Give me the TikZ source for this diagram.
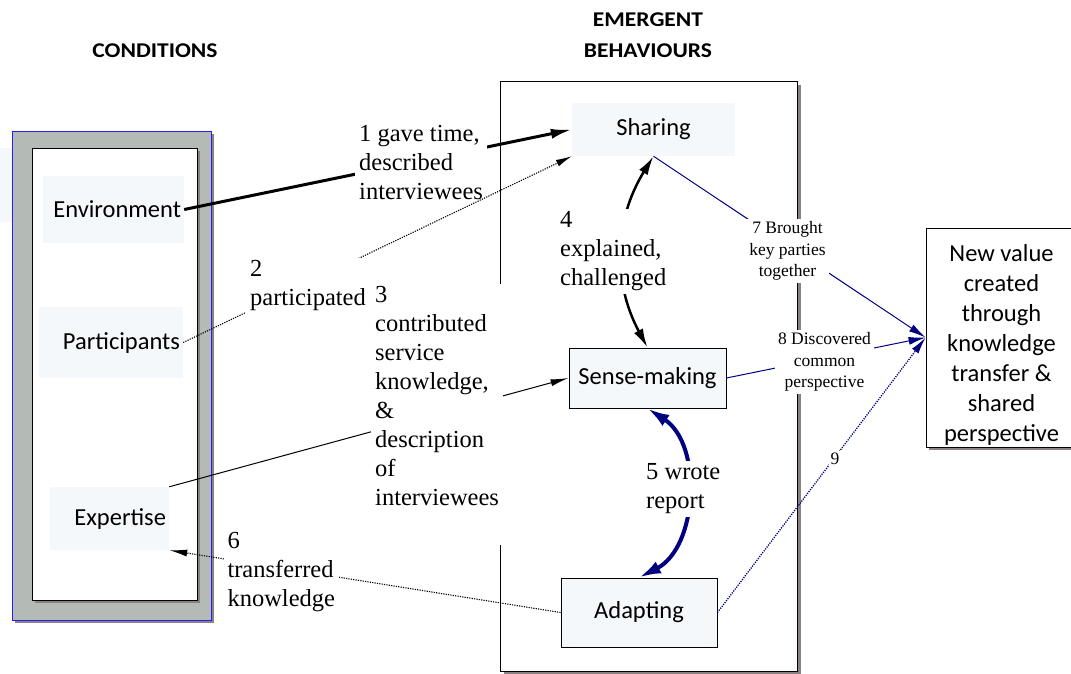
\documentclass[tikz,border=0pt]{standalone}
\usepackage{graphicx}
\usepackage{fontspec}
\setmainfont{Liberation Serif}
\newfontfamily\boxfont{Carlito}
\usetikzlibrary{arrows.meta,shadows}

\definecolor{panelgray}{HTML}{B4BBB7}
\definecolor{shadegray}{HTML}{8A8282}
\definecolor{palefill}{HTML}{F4F8FA}
\definecolor{navyline}{HTML}{000080}
\definecolor{frameblue}{HTML}{2020F0}

\begin{document}
\begin{tikzpicture}[x=1pt,y=-1pt,
  boxtext/.style={font=\boxfont\fontsize{24.5}{30}\selectfont},
  palebox/.style={boxtext, fill=palefill, inner xsep=3pt, inner ysep=0pt, align=right},
  framedbox/.style={boxtext, draw=black, line width=0.9pt, fill=palefill, inner sep=0pt},
  shade/.style={drop shadow={shadow xshift=#1,shadow yshift=-#1,fill=shadegray,opacity=1}},
  note/.style={font=\fontsize{24.5}{29}\selectfont, fill=white, align=left,
    inner xsep=4pt, inner ysep=3pt, anchor=north west},
  smallnote/.style={font=\fontsize{17.5}{21.5}\selectfont, fill=white, align=center,
    inner xsep=3pt, inner ysep=3pt},
  heading/.style={font=\boxfont\bfseries\fontsize{21}{31}\selectfont, align=center, inner sep=0pt},
  dotline/.style={dash pattern=on 1.2pt off 1.2pt, line width=1.1pt},
]
\useasboundingbox (0,0) rectangle (1071,673);

% column headings
\node[heading] (hcond) at (155,51) {\scalebox{1.12}[1]{CONDITIONS}};
\node[heading] (hemerg) at (648,35.5) {\scalebox{1.12}[1]{EMERGENT}\\\scalebox{1.12}[1]{BEHAVIOURS}};

% faint strip at the far left
\fill[palefill] (0,148) rectangle (12,222);

% conditions panel
\node[draw=frameblue, line width=0.8pt, fill=panelgray, shade=3pt,
      minimum width=199, minimum height=489, inner sep=0pt] (outer) at (111.5,375.5) {};
\node[draw=black, line width=0.9pt, fill=white, shade=3pt,
      minimum width=165, minimum height=452, inner sep=0pt] (inner) at (114.5,374) {};

\node[palebox, text width=135, minimum height=67] (env) at (113.5,209.5) {Environment};
\node[palebox, text width=138, minimum height=71] (part) at (111,342.5) {Participants};
\node[palebox, text width=113, minimum height=63] (exp) at (109.5,518.5) {Expertise};

% emergent behaviours panel
\node[draw=black, line width=0.9pt, fill=white, shade=4pt,
      minimum width=297, minimum height=590, inner sep=0pt] (emerg) at (648.5,376) {};
\node[boxtext, fill=palefill, minimum width=163, minimum height=53, inner sep=0pt] (share) at (653.5,129.5) {Sharing};
\node[framedbox, minimum width=157, minimum height=60] (sense) at (647.5,378) {Sense-making};
\node[framedbox, minimum width=156, minimum height=69] (adapt) at (639,612.5) {Adapting};

% outcome box
\node[draw=black, line width=0.9pt, fill=white, shade=3pt,
      minimum width=151, minimum height=219, inner sep=0pt,
      label={[boxtext, align=center, yshift=-7.5pt]center:New value\\created\\through\\knowledge\\transfer \&\\shared\\perspective}]
      (nv) at (1001.5,337.5) {};

% 1: environment -> sharing
\draw[line width=3pt, -{Latex[length=21pt,width=10pt]}] (env.east) -- (share.west);
\node[note] (l1) at (355,122.4) {1 gave time,\\described\\interviewees};

% 2: participants -> sharing
\draw[dotline, -{Latex[length=16pt,width=7pt]}] (part.east) -- (share.south west);
\node[note] (l2) at (246,257.4) {2\\participated};

% 3: expertise -> sense-making
\draw[line width=1pt, -{Latex[length=18pt,width=7pt]}] (exp.north east) -- (sense.west);
\node[note] (l3) at (371,283.4) {3\\contributed\\service\\knowledge,\\\&\\description\\of\\interviewees\\[7pt]~};

% 4: sharing <-> sense-making
\draw[line width=2.5pt, {Latex[length=19pt,width=10pt]}-{Latex[length=19pt,width=10pt]}]
  (share.south) to[bend right=30] (sense.north);
\node[note] (l4) at (556,208.4) {4\\explained,\\challenged};

% 5: sense-making <-> adapting
\draw[navyline, line width=4pt, {Latex[length=22pt,width=13pt]}-{Latex[length=22pt,width=13pt]}]
  (sense.south) to[bend left=60] (adapt.north);
\node[note] (l5) at (642,460.4) {5 wrote\\report};

% 6: adapting -> expertise
\draw[dotline, -{Latex[length=18pt,width=7pt]}] (adapt.west) -- (exp.south east);
\node[note] (l6) at (223.3,528.7) {6\\transferred\\knowledge};

% 7, 8, 9: behaviours -> new value
\draw[navyline, line width=1pt, -{Latex[length=17pt,width=8pt]}] (share.south) -- (nv.west);
\node[smallnote] (l7) at (787.5,251) {7 Brought\\key parties\\together};

\draw[navyline, line width=1pt, -{Latex[length=17pt,width=8pt]}] (sense.east) -- (nv.west);
\node[smallnote] (l8) at (824.5,362) {8 Discovered\\common\\perspective};

\draw[navyline, dotline, line width=1.3pt, -{Latex[length=17pt,width=8pt]}] (adapt.east) -- (nv.west);
\node[smallnote, inner sep=2pt] (l9) at (835,459) {9};
\end{tikzpicture}
\end{document}
